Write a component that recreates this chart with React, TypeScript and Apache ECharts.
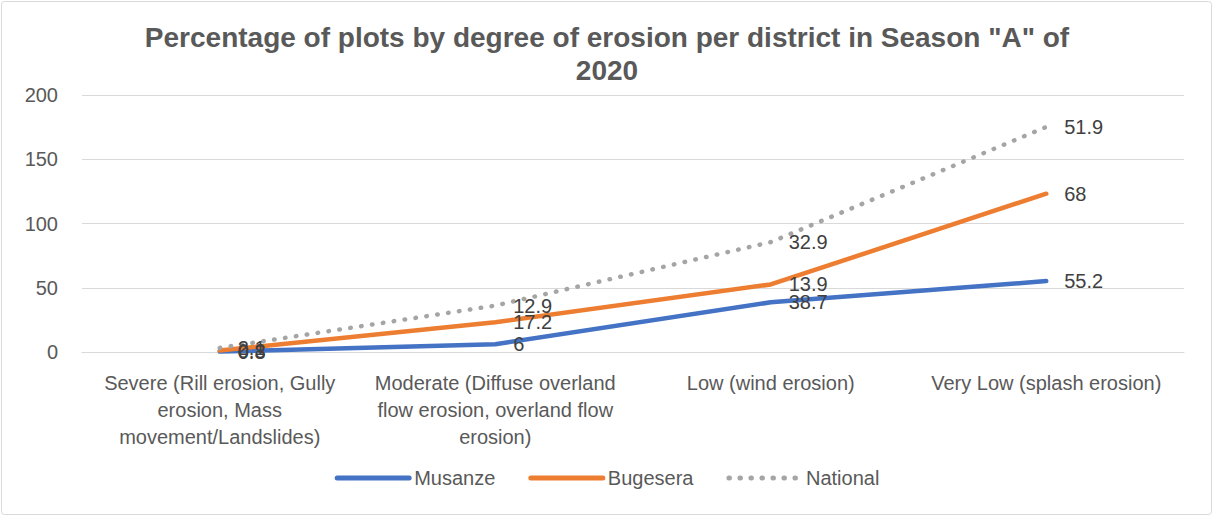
import React, { useEffect, useRef } from "react";
import * as echarts from "echarts";

const categories = [
  "Severe (Rill erosion, Gully\nerosion, Mass\nmovement/Landslides)",
  "Moderate (Diffuse overland\nflow erosion, overland flow\nerosion)",
  "Low (wind erosion)",
  "Very Low (splash erosion)",
];
const musanze = [0.3, 6, 38.7, 55.2];
const bugesera = [0.8, 17.2, 13.9, 68];
const national = [2.1, 12.9, 32.9, 51.9];
const titleText = 'Percentage of plots by degree of erosion per district in Season "A" of\n2020';

export default function App() {
  const ref = useRef<HTMLDivElement>(null);
  useEffect(() => {
    document.body.style.margin = "0";
    const chart = echarts.init(ref.current!, undefined, { renderer: "svg" });
    const font = "'Liberation Sans', Arial, sans-serif";
    const label = {
      show: true,
      position: "right" as const,
      distance: 18,
      color: "#404040",
      fontSize: 20,
      fontFamily: font,
    };
    chart.setOption({
      animation: false,
      title: {
        text: titleText,
        left: "center",
        top: 16,
        textStyle: {
          fontSize: 28,
          fontWeight: "bold",
          color: "#595959",
          fontFamily: font,
          lineHeight: 33,
        },
      },
      graphic: [
        {
          type: "rect",
          shape: { x: 1.5, y: 1.5, width: 1210, height: 513, r: 3 },
          style: { fill: "none", stroke: "#D9D9D9", lineWidth: 1 },
          silent: true,
        },
      ],
      grid: { left: 82, right: 30, top: 95, bottom: 165 },
      legend: {
        top: 463,
        left: "center",
        itemWidth: 72,
        itemHeight: 10,
        itemGap: 33,
        itemStyle: { opacity: 0 },
        lineStyle: { width: 5, cap: "round" },
        textStyle: { fontSize: 20, color: "#595959", fontFamily: font },
        data: ["Musanze", "Bugesera", "National"],
      },
      xAxis: {
        type: "category",
        data: categories,
        boundaryGap: true,
        axisTick: { show: false },
        axisLine: { lineStyle: { color: "#D9D9D9", width: 1 } },
        axisLabel: {
          interval: 0,
          color: "#595959",
          fontSize: 20,
          fontFamily: font,
          lineHeight: 27,
          margin: 17,
        },
      },
      yAxis: {
        type: "value",
        min: 0,
        max: 200,
        interval: 50,
        axisLine: { show: false },
        axisTick: { show: false },
        splitLine: { lineStyle: { color: "#D9D9D9", width: 1 } },
        axisLabel: { color: "#595959", fontSize: 20, fontFamily: font, margin: 24 },
      },
      series: [
        {
          name: "Musanze",
          type: "line",
          stack: "total",
          data: musanze,
          symbolSize: 0,
          itemStyle: { color: "#4472C4" },
          lineStyle: { color: "#4472C4", width: 4.5, cap: "round" },
          label,
        },
        {
          name: "Bugesera",
          type: "line",
          stack: "total",
          data: bugesera,
          symbolSize: 0,
          itemStyle: { color: "#ED7D31" },
          lineStyle: { color: "#ED7D31", width: 4.5, cap: "round" },
          label,
        },
        {
          name: "National",
          type: "line",
          stack: "total",
          data: national,
          symbolSize: 0,
          itemStyle: { color: "#A5A5A5" },
          lineStyle: { color: "#A5A5A5", width: 4.5, type: [0.5, 10.5], cap: "round" },
          label,
        },
      ],
    });
    return () => chart.dispose();
  }, []);
  return <div ref={ref} style={{ width: 1214, height: 517 }} />;
}
